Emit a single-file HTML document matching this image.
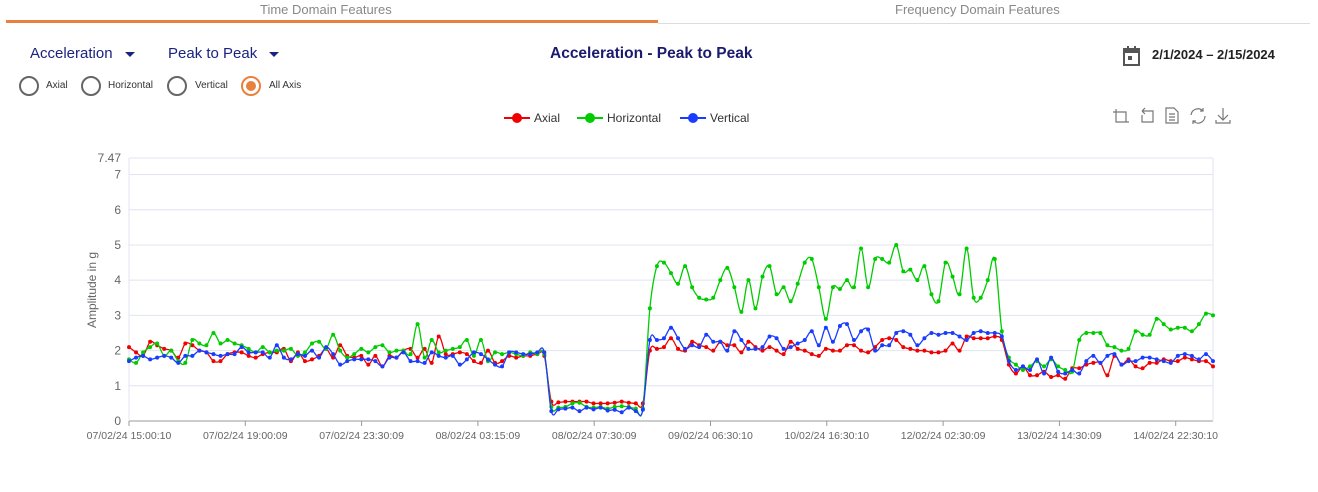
<!DOCTYPE html>
<html><head><meta charset="utf-8">
<style>
body{margin:0;width:1318px;height:492px;background:#fff;font-family:"Liberation Sans",sans-serif;position:relative;overflow:hidden}
.abs{position:absolute}
.tab{position:absolute;top:2px;font-size:13px;color:#888;}
.dd{position:absolute;top:45px;font-size:15px;color:#1a237e}
.dd:after{content:"";display:inline-block;margin-left:12px;border-left:5px solid transparent;border-right:5px solid transparent;border-top:5px solid #1a237e;vertical-align:middle}
.radio{position:absolute;top:76px;width:16px;height:16px;border:2px solid #666;border-radius:50%}
.rl{position:absolute;top:80px;font-size:10px;color:#333}
</style></head><body>
<div class="tab" style="left:260px">Time Domain Features</div>
<div class="abs" style="left:6px;top:20px;width:652px;height:3px;background:#e8803e"></div>
<div class="abs" style="left:658px;top:23px;width:652px;height:1px;background:#ddd"></div>
<div class="tab" style="left:895px">Frequency Domain Features</div>
<div class="dd" style="left:30px">Acceleration</div>
<div class="dd" style="left:168px">Peak to Peak</div>
<div class="radio" style="left:19px"></div><div class="rl" style="left:46px">Axial</div>
<div class="radio" style="left:81px"></div><div class="rl" style="left:108px">Horizontal</div>
<div class="radio" style="left:167px"></div><div class="rl" style="left:195px">Vertical</div>
<div class="radio" style="left:241px;border-color:#e8803e"><div style="position:absolute;left:3px;top:3px;width:10px;height:10px;border-radius:50%;background:#e8803e"></div></div><div class="rl" style="left:269px">All Axis</div>
<div class="abs" style="left:550px;top:45px;font-size:15.5px;font-weight:bold;color:#1a1a6e">Acceleration - Peak to Peak</div>
<svg class="abs" style="left:1122px;top:45px" width="20" height="22"><rect x="2" y="4" width="15" height="16" fill="none" stroke="#555" stroke-width="2"/><rect x="2" y="4" width="15" height="4" fill="#555"/><rect x="5" y="1" width="2" height="4" fill="#555"/><rect x="12" y="1" width="2" height="4" fill="#555"/><rect x="6" y="11" width="4" height="4" fill="#555"/></svg>
<div class="abs" style="left:1152px;top:47px;font-size:13px;font-weight:bold;color:#222">2/1/2024 – 2/15/2024</div>
<svg id="chart" class="abs" style="left:0;top:0" width="1318" height="492"></svg>
<script>
const categories=["07/02/24 15:00:10","07/02/24 19:00:09","07/02/24 23:30:09","08/02/24 03:15:09","08/02/24 07:30:09","09/02/24 06:30:10","10/02/24 16:30:10","12/02/24 02:30:09","13/02/24 14:30:09","14/02/24 22:30:10"];
const yTicks=[0,1,2,3,4,5,6,7];
const axial=[2.1,1.95,1.85,2.25,2.15,2.05,2.0,1.8,2.2,2.15,2.0,1.95,1.7,1.7,1.9,1.95,1.95,1.85,1.8,1.9,1.95,1.95,2.05,1.7,1.95,1.7,1.75,1.85,2.05,1.8,2.15,1.85,1.8,1.85,1.6,1.85,1.55,1.85,1.8,2.0,2.05,1.8,2.05,1.65,2.4,1.9,1.9,1.95,1.9,1.7,1.65,2.0,1.65,1.7,1.85,1.8,1.85,1.85,1.9,1.85,
0.55,0.53,0.55,0.55,0.55,0.55,0.5,0.5,0.5,0.52,0.55,0.52,0.5,0.5,
2.0,2.05,2.1,2.35,2.05,2.0,2.25,2.15,2.1,2.0,2.25,2.15,2.15,1.95,2.25,2.1,2.0,2.1,2.0,1.9,2.25,2.05,2.0,1.9,1.85,2.05,2.0,2.0,2.15,2.15,2.0,1.95,2.1,2.3,2.35,2.3,2.1,2.05,2.0,2.0,1.95,1.95,2.0,2.2,2.0,2.4,2.35,2.35,2.35,2.4,
2.3,1.6,1.35,1.55,1.3,1.3,1.4,1.25,1.3,1.2,1.5,1.5,1.6,1.65,1.65,1.3,1.85,1.6,1.75,1.55,1.5,1.65,1.65,1.75,1.7,1.7,1.8,1.75,1.7,1.7,1.55];
const horizontal=[1.75,1.65,1.95,2.1,2.2,1.85,2.0,1.7,1.65,2.3,2.2,2.15,2.5,2.2,2.3,2.2,2.15,2.05,1.95,2.1,1.95,2.0,2.0,2.05,1.85,1.95,2.2,2.25,2.05,2.45,2.0,1.8,1.9,2.05,1.95,2.1,2.15,1.95,2.0,2.0,1.9,2.75,1.8,2.3,1.95,2.0,2.05,2.1,2.3,1.85,2.3,1.7,1.95,1.9,1.95,1.9,1.85,1.95,1.9,1.9,
0.4,0.38,0.4,0.5,0.52,0.4,0.38,0.4,0.35,0.4,0.42,0.4,0.35,0.35,
3.2,4.4,4.5,4.2,3.9,4.4,3.8,3.5,3.45,3.5,4.0,4.35,3.8,3.1,4.0,3.2,4.1,4.4,3.6,3.8,3.4,3.9,4.5,4.6,3.8,2.9,3.8,3.75,4.0,3.8,4.9,3.8,4.6,4.6,4.5,5.0,4.25,4.3,4.0,4.4,3.6,3.4,4.5,4.1,3.6,4.9,3.5,3.5,4.0,4.6,
2.55,1.8,1.6,1.45,1.55,1.7,1.55,1.75,1.55,1.45,1.4,2.3,2.5,2.5,2.5,2.15,2.1,2.0,2.05,2.55,2.45,2.45,2.9,2.75,2.6,2.65,2.65,2.55,2.75,3.05,3.0];
const vertical=[1.7,1.8,1.85,1.75,1.8,1.85,1.8,1.65,1.85,1.85,2.0,1.95,1.9,1.85,1.9,1.9,2.1,1.95,1.95,1.95,1.8,2.15,1.8,1.75,1.9,1.85,2.0,1.8,2.1,1.9,1.6,1.7,1.75,1.75,1.75,1.7,1.55,1.8,1.8,1.95,1.7,1.7,1.65,1.95,1.85,1.8,1.85,1.6,1.75,1.95,1.9,1.75,1.6,1.55,1.95,1.95,1.9,1.9,1.95,1.95,
0.28,0.33,0.35,0.38,0.28,0.38,0.33,0.38,0.3,0.32,0.25,0.38,0.28,0.32,
2.3,2.3,2.35,2.65,2.35,2.05,2.15,2.1,2.45,2.25,2.25,2.0,2.55,2.3,2.05,2.05,2.1,2.4,2.35,2.05,2.1,2.2,2.3,2.55,2.15,2.65,2.25,2.7,2.75,2.3,2.55,2.6,2.0,2.15,2.15,2.5,2.55,2.45,2.15,2.35,2.5,2.45,2.5,2.5,2.4,2.3,2.5,2.55,2.5,2.5,
2.4,1.7,1.45,1.55,1.45,1.75,1.35,1.8,1.4,1.35,1.45,1.35,1.7,1.85,1.65,1.85,1.9,1.6,1.7,1.7,1.8,1.8,1.75,1.7,1.65,1.85,1.9,1.85,1.75,1.9,1.7];
const seriesNames=["Axial","Horizontal","Vertical"];
const seriesColors=["#f00000","#00cc00","#1a3cff"];
const yMax=7.47;

const svg=document.getElementById('chart');
const NS='http://www.w3.org/2000/svg';
const L=129,R=1213,T=158,B=421;
const N=axial.length;
const xs=i=>L+i*(R-L)/(N-1);
const ys=v=>B-v*(B-T)/yMax;
function mk(tag,a,parent){const e=document.createElementNS(NS,tag);for(const k in a)e.setAttribute(k,a[k]);(parent||svg).appendChild(e);return e;}
yTicks.forEach(t=>{
  const g=mk('line',{x1:L,x2:R,y1:ys(t),y2:ys(t),stroke:t===0?'#999':'#e0e4ef','stroke-width':1});
  
  
  const tx=mk('text',{x:L-8,y:ys(t)+4,'text-anchor':'end','font-size':12,fill:'#666'});tx.textContent=t;
  
  
});
const topG=mk('line',{x1:L,x2:R,y1:T,y2:T,stroke:'#e0e4ef'});


const topT=mk('text',{x:L-8,y:T+4,'text-anchor':'end','font-size':12,fill:'#666'});topT.textContent=yMax;


const rb=mk('line',{x1:R,x2:R,y1:T,y2:B,stroke:'#e0e4ef'});


const ya=mk('line',{x1:L,x2:L,y1:T,y2:B,stroke:'#e0e4ef'});


const yt=mk('text',{x:0,y:0,transform:`translate(96,290) rotate(-90)`,'text-anchor':'middle','font-size':12,fill:'#666'});yt.textContent='Amplitude in g';


categories.forEach((c,k)=>{
  const x=L+k*116.3;
  const tk=mk('line',{x1:x,x2:x,y1:B,y2:B+5,stroke:'#999'});
  
  
  const tx=mk('text',{x:x,y:B+18,'text-anchor':'middle','font-size':10.5,fill:'#666'});tx.textContent=c;
  
  
});
function smooth(pts){let d=`M${pts[0][0]},${pts[0][1]}`;for(let i=0;i<pts.length-1;i++){const p0=pts[i-1]||pts[i],p1=pts[i],p2=pts[i+1],p3=pts[i+2]||p2;const t=0.5/3;d+=` C${p1[0]+(p2[0]-p0[0])*t},${p1[1]+(p2[1]-p0[1])*t} ${p2[0]-(p3[0]-p1[0])*t},${p2[1]-(p3[1]-p1[1])*t} ${p2[0]},${p2[1]}`;}return d;}
[axial,horizontal,vertical].forEach((arr,s)=>{
  const pts=arr.map((v,i)=>[xs(i),ys(v)]);
  const p=mk('path',{d:smooth(pts),fill:'none',stroke:seriesColors[s],'stroke-width':1.3});
  
  
  pts.forEach(q=>{const c=mk('circle',{cx:q[0],cy:q[1],r:2,fill:seriesColors[s]});
    
    });
});
const lx=[517,590,693];
seriesNames.forEach((n,s)=>{
  const x=lx[s];
  const l=mk('line',{x1:x-13,x2:x+13,y1:118,y2:118,stroke:seriesColors[s],'stroke-width':2});
  
  
  const c=mk('circle',{cx:x,cy:118,r:5,fill:seriesColors[s]});
  
  
  const t=mk('text',{x:x+17,y:122,'font-size':12,fill:'#333'});t.textContent=n;
  
  
});
</script>
<svg class="abs" style="left:1112px;top:106px" width="125" height="20">
 <g stroke="#777" fill="none" stroke-width="1.2">
  <g><path d="M4,3 V16 H17 M1,6 H14 V16"/></g>
  <g><path d="M30,5 H41 V16 H30 V9 M30,5 l3,-3 M30,5 l3,3"/></g>
  <g><path d="M54,2 H62 L66,6 V17 H54 Z M57,8 H63 M57,11 H63 M57,14 H63"/></g>
  <g><path d="M79,9 A7,7 0 0 1 91,5 M93,10 A7,7 0 0 1 81,15 M91,2 V5 H88 M81,18 V15 H84"/></g>
  <g><path d="M111,2 V14 M106,9 L111,14 L116,9 M104,14 V17 H118 V14"/></g>
 </g>
</svg>
</body></html>
